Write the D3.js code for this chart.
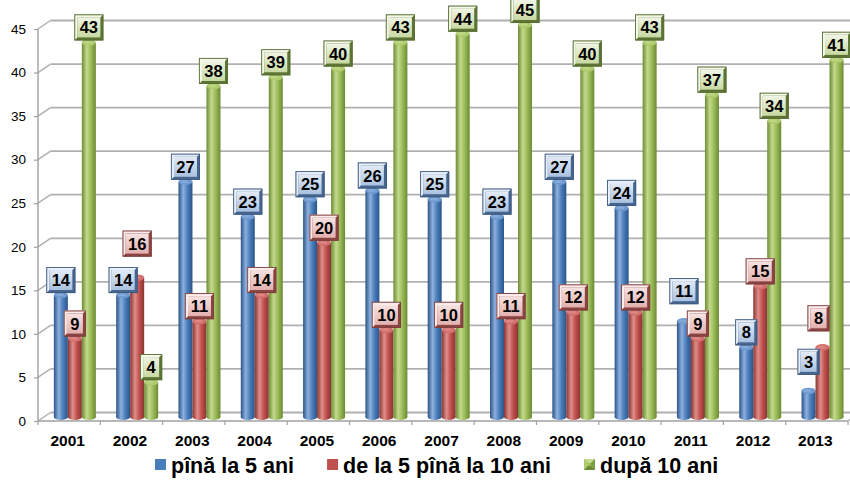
<!DOCTYPE html>
<html>
<head>
<meta charset="utf-8">
<script src="https://cdn.jsdelivr.net/npm/d3@7"></script>
<style>
  html, body { margin: 0; padding: 0; background: #fff; }
  svg { display: block; font-family: "Liberation Sans", Arial, sans-serif; }
</style>
</head>
<body>
<svg id="chart" width="850" height="490"></svg>
<script>
// ---- data ----
const years = ["2001","2002","2003","2004","2005","2006","2007","2008","2009","2010","2011","2012","2013"];
const seriesNames = ["pînă la 5 ani", "de la 5 pînă la 10 ani", "după 10 ani"];
const upTo5 = [14,14,27,23,25,26,25,23,27,24,11,8,3];
const from5to10 = [9,16,11,14,20,10,10,11,12,12,9,15,8];
const over10 = [43,4,38,39,40,43,44,45,40,43,37,34,41];
const yTicks = [0,5,10,15,20,25,30,35,40,45];

// ---- styles (not data) ----
const palette = [
  { dark: "#2B5489", mid: "#4A7EBB", light: "#8DB0DE", cap: "#6F9AD0",
    lblTop: "#E3EBF6", lblBot: "#A9C1DF", lblEdgeL: "#E8EFF8", lblEdgeD: "#46658F", lblBorder: "#3E5A80" },
  { dark: "#8A3431", mid: "#C0504D", light: "#E08E8B", cap: "#D2706D",
    lblTop: "#F7E3E2", lblBot: "#E2B0AE", lblEdgeL: "#FAEDEC", lblEdgeD: "#8A4442", lblBorder: "#7E3E3C" },
  { dark: "#6C8A33", mid: "#9BBB59", light: "#C3DA8C", cap: "#AECB6E",
    lblTop: "#F0F5E4", lblBot: "#C8D9A2", lblEdgeL: "#F4F8EA", lblEdgeD: "#5C7434", lblBorder: "#586E33" }
];
// manual label nudges seen in the original (dy, dx) keyed "year|series"
const labelNudge = { "2002|1": [-19, 0], "2011|0": [-15, 0], "2013|0": [-14, 0], "2013|1": [-14, -4] };

const svg = d3.select("#chart");
const defs = svg.append("defs");

const left = 38, right = 848, depthX = 12.5, depthY = -8.5;
const x = d3.scaleBand().domain(years).range([left, right]).padding(0);
const y = d3.scaleLinear().domain([0, 45]).range([421, 29]);
const inner = d3.scaleBand().domain([0,1,2]).range([-21, 21]).padding(0);
const barDX = 5.7, barDY = -4;

// gradients
palette.forEach((p, i) => {
  const g = defs.append("linearGradient").attr("id", "cyl" + i).attr("x1", "0").attr("x2", "1").attr("y1", "0").attr("y2", "0");
  g.append("stop").attr("offset", "0").attr("stop-color", p.dark);
  g.append("stop").attr("offset", "0.35").attr("stop-color", p.light);
  g.append("stop").attr("offset", "0.65").attr("stop-color", p.mid);
  g.append("stop").attr("offset", "1").attr("stop-color", p.dark);
  const l = defs.append("linearGradient").attr("id", "lbl" + i).attr("x1", "0").attr("x2", "0").attr("y1", "0").attr("y2", "1");
  l.append("stop").attr("offset", "0").attr("stop-color", p.lblTop);
  l.append("stop").attr("offset", "1").attr("stop-color", p.lblBot);
});

// ---- walls / gridlines ----
const grid = svg.append("g");
yTicks.forEach(v => {
  const yf = y(v), yb = y(v) + depthY;
  grid.append("line").attr("x1", left + depthX).attr("x2", 852).attr("y1", yb).attr("y2", yb)
    .attr("stroke", "#B0B0B0").attr("stroke-width", 1.8);
  grid.append("line").attr("x1", left).attr("y1", yf).attr("x2", left + depthX).attr("y2", yb)
    .attr("stroke", "#B0B0B0").attr("stroke-width", 1.5);
});
// floor front edge
grid.append("line").attr("x1", left).attr("x2", right).attr("y1", y(0)).attr("y2", y(0))
  .attr("stroke", "#A0A0A0").attr("stroke-width", 1.4);
grid.append("line").attr("x1", right).attr("y1", y(0)).attr("x2", right + depthX).attr("y2", y(0) + depthY)
  .attr("stroke", "#B0B0B0").attr("stroke-width", 1.4);

// y axis
const yAxis = svg.append("g").attr("transform", `translate(${left},0)`)
  .call(d3.axisLeft(y).tickValues(yTicks).tickSize(4).tickPadding(8).tickFormat(d3.format("d")));
yAxis.select(".domain").attr("stroke", "#A0A0A0").attr("stroke-width", 1.4).attr("d", `M-0,${y(45)}V${y(0)}`);
yAxis.selectAll(".tick line").attr("stroke", "#A0A0A0").attr("stroke-width", 1.2);
yAxis.selectAll(".tick text").attr("font-size", "13.5px").attr("fill", "#000");

// x axis labels + boundary ticks
const xAxis = svg.append("g").attr("transform", `translate(0,${y(0)})`)
  .call(d3.axisBottom(x).tickSize(0).tickPadding(14));
xAxis.select(".domain").remove();
xAxis.selectAll(".tick text").attr("font-size", "15.5px").attr("font-weight", "bold").attr("fill", "#000").attr("dx", "-1.5");
const bounds = years.map(d => x(d)).concat([right]);
svg.append("g").selectAll("line").data(bounds).join("line")
  .attr("x1", d => d).attr("x2", d => d).attr("y1", y(0)).attr("y2", y(0) + 4)
  .attr("stroke", "#A0A0A0").attr("stroke-width", 1.2);

// ---- bars (cylinders) ----
const seriesVals = [upTo5, from5to10, over10];
const bars = [];
years.forEach((yr, i) => {
  seriesVals.forEach((arr, s) => {
    bars.push({ year: yr, s, v: arr[i] });
  });
});
const bw = inner.bandwidth();
const cx = d => x(d.year) + x.bandwidth() / 2 + barDX + inner(d.s) + bw / 2;
const base = y(0) + barDY;
const topY = d => y(d.v) + barDY;

const barG = svg.append("g");
const bg = barG.selectAll("g").data(bars).join("g");
bg.append("ellipse").attr("cx", cx).attr("cy", base).attr("rx", bw / 2).attr("ry", 3)
  .attr("fill", d => `url(#cyl${d.s})`);
bg.append("rect").attr("x", d => cx(d) - bw / 2).attr("y", topY).attr("width", bw)
  .attr("height", d => base - topY(d)).attr("fill", d => `url(#cyl${d.s})`);
bg.append("ellipse").attr("cx", cx).attr("cy", topY).attr("rx", bw / 2).attr("ry", 3.2)
  .attr("fill", d => palette[d.s].cap);
bg.append("ellipse").attr("cx", d => cx(d) - 1).attr("cy", d => topY(d) - 0.3).attr("rx", bw / 2 - 3).attr("ry", 1.6)
  .attr("fill", d => palette[d.s].light).attr("opacity", 0.7);

// ---- data labels ----
const lblG = svg.append("g");
bars.forEach(d => {
  const key = d.year + "|" + d.s;
  const nud = labelNudge[key] || [0, 0];
  const w = String(d.v).length > 1 ? 29 : 22, h = 26, b = 3;
  const lx = cx(d) + nud[1] - w / 2, ly = topY(d) - 15 + nud[0] - h / 2;
  const p = palette[d.s];
  const g = lblG.append("g").attr("transform", `translate(${lx},${ly})`);
  g.append("rect").attr("width", w).attr("height", h).attr("fill", p.lblEdgeD);
  g.append("path").attr("d", `M0,0H${w}L${w-b},${b}H${b}V${h-b}L0,${h}Z`).attr("fill", p.lblEdgeL);
  g.append("rect").attr("x", b).attr("y", b).attr("width", w - 2*b).attr("height", h - 2*b).attr("fill", `url(#lbl${d.s})`);
  g.append("rect").attr("x", 0.4).attr("y", 0.4).attr("width", w - 0.8).attr("height", h - 0.8).attr("fill", "none")
    .attr("stroke", p.lblBorder).attr("stroke-width", 0.9);
  g.append("text").attr("x", w / 2).attr("y", h / 2 + 6).attr("text-anchor", "middle")
    .attr("font-size", "16.5px").attr("font-weight", "bold").attr("fill", "#000").text(d.v);
});

// ---- legend ----
const legend = svg.append("g").attr("transform", "translate(0,465)");
let lxPos = 155;
seriesNames.forEach((name, s) => {
  const p = palette[s];
  const g = legend.append("g").attr("transform", `translate(${lxPos},0)`);
  g.append("rect").attr("x", 0).attr("y", -6).attr("width", 11).attr("height", 11).attr("fill", p.mid);
  if (s === 2) {
    g.append("path").attr("d", "M0,-6H11L7,-2H4Z").attr("fill", p.light);
    g.append("path").attr("d", "M0,-6L4,-2V1L0,5Z").attr("fill", p.cap);
    g.append("path").attr("d", "M0,5H11L7,1H4Z").attr("fill", p.dark);
    g.append("path").attr("d", "M11,-6L7,-2V1L11,5Z").attr("fill", "#7E9C45");
    g.append("rect").attr("x", 4).attr("y", -2).attr("width", 3).attr("height", 3).attr("fill", p.mid);
  }
  const t = g.append("text").attr("x", 16).attr("y", 7.5).attr("font-size", "21.5px").attr("font-weight", "bold")
    .attr("fill", "#000").text(name);
  const tw = t.node().getComputedTextLength();
  lxPos += 16 + tw + 33;
});
</script>
</body>
</html>
